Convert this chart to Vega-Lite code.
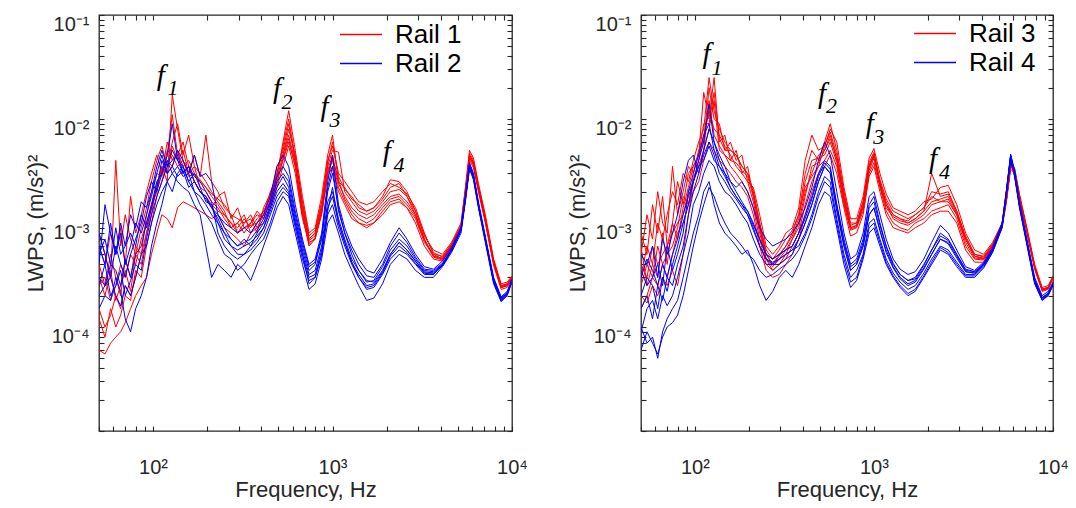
{
  "$schema": "https://vega.github.io/schema/vega-lite/v6.json",
  "padding": {"left": 23, "top": 13, "right": 0, "bottom": 0},
  "spacing": 129,
  "bounds": "flush",
  "resolve": {"scale": {"color": "independent"}, "legend": {"color": "independent"}},
  "datasets": {
    "r1": [
      {"f":50,"a":6e-4,"b":1.5e-4,"c":0.6e-4,"d":3e-4,"e":8e-4,"g":2.5e-4,"h":1.2e-4,"i":4e-4},
      {"f":54,"a":4e-4,"b":1e-4,"c":0.55e-4,"d":2e-4,"e":5e-4,"g":3e-4,"h":0.8e-4,"i":2.5e-4},
      {"f":58,"a":8e-4,"b":1.3e-4,"c":0.7e-4,"d":3.5e-4,"e":3e-4,"g":1.8e-4,"h":1.5e-4,"i":5e-4},
      {"f":62,"a":5e-4,"b":2e-4,"c":0.8e-4,"d":1.8e-4,"e":40e-4,"g":2.5e-4,"h":1e-4,"i":3e-4},
      {"f":66,"a":9e-4,"b":1.5e-4,"c":0.9e-4,"d":2.5e-4,"e":6e-4,"g":4e-4,"h":1.3e-4,"i":2e-4},
      {"f":70,"a":4e-4,"b":2.5e-4,"c":1.1e-4,"d":3.5e-4,"e":12e-4,"g":3e-4,"h":2e-4,"i":4.5e-4},
      {"f":75,"a":18e-4,"b":2e-4,"c":1.5e-4,"d":2.2e-4,"e":7e-4,"g":5e-4,"h":1.8e-4,"i":3e-4},
      {"f":80,"a":8e-4,"b":3e-4,"c":2e-4,"d":5e-4,"e":5e-4,"g":4e-4,"h":3.5e-4,"i":6e-4},
      {"f":86,"a":12e-4,"b":5e-4,"c":2.5e-4,"d":4e-4,"e":9e-4,"g":7e-4,"h":3e-4,"i":5e-4},
      {"f":92,"a":20e-4,"b":8e-4,"c":3e-4,"d":8e-4,"e":14e-4,"g":10e-4,"h":6e-4,"i":12e-4},
      {"f":98,"a":30e-4,"b":14e-4,"c":5e-4,"d":12e-4,"e":25e-4,"g":15e-4,"h":10e-4,"i":20e-4},
      {"f":105,"a":45e-4,"b":20e-4,"c":8e-4,"d":25e-4,"e":40e-4,"g":22e-4,"h":18e-4,"i":30e-4},
      {"f":112,"a":30e-4,"b":35e-4,"c":12e-4,"d":30e-4,"e":55e-4,"g":35e-4,"h":25e-4,"i":28e-4},
      {"f":120,"a":60e-4,"b":25e-4,"c":11e-4,"d":45e-4,"e":35e-4,"g":30e-4,"h":40e-4,"i":50e-4},
      {"f":128,"a":40e-4,"b":170e-4,"c":9e-4,"d":110e-4,"e":60e-4,"g":55e-4,"h":35e-4,"i":45e-4},
      {"f":137,"a":50e-4,"b":80e-4,"c":14e-4,"d":45e-4,"e":90e-4,"g":40e-4,"h":50e-4,"i":35e-4},
      {"f":147,"a":35e-4,"b":40e-4,"c":16e-4,"d":60e-4,"e":45e-4,"g":50e-4,"h":30e-4,"i":40e-4},
      {"f":158,"a":40e-4,"b":30e-4,"c":15e-4,"d":35e-4,"e":70e-4,"g":30e-4,"h":35e-4,"i":28e-4},
      {"f":170,"a":30e-4,"b":45e-4,"c":14e-4,"d":25e-4,"e":35e-4,"g":35e-4,"h":25e-4,"i":30e-4},
      {"f":183,"a":25e-4,"b":28e-4,"c":13e-4,"d":20e-4,"e":30e-4,"g":22e-4,"h":20e-4,"i":26e-4},
      {"f":197,"a":22e-4,"b":70e-4,"c":12e-4,"d":18e-4,"e":25e-4,"g":20e-4,"h":18e-4,"i":22e-4},
      {"f":212,"a":18e-4,"b":25e-4,"c":11e-4,"d":14e-4,"e":20e-4,"g":16e-4,"h":15e-4,"i":19e-4},
      {"f":230,"a":15e-4,"b":20e-4,"c":12e-4,"d":18e-4,"e":16e-4,"g":14e-4,"h":13e-4,"i":17e-4},
      {"f":250,"a":12e-4,"b":14e-4,"c":9e-4,"d":20e-4,"e":13e-4,"g":11e-4,"h":12e-4,"i":15e-4},
      {"f":272,"a":10e-4,"b":12e-4,"c":8e-4,"d":11e-4,"e":9e-4,"g":9e-4,"h":10e-4,"i":12e-4},
      {"f":296,"a":9e-4,"b":8e-4,"c":7e-4,"d":14e-4,"e":10e-4,"g":10e-4,"h":8e-4,"i":11e-4},
      {"f":322,"a":11e-4,"b":10e-4,"c":6e-4,"d":9e-4,"e":12e-4,"g":8e-4,"h":9e-4,"i":10e-4},
      {"f":350,"a":9e-4,"b":12e-4,"c":8e-4,"d":10e-4,"e":8e-4,"g":10e-4,"h":9.5e-4,"i":11e-4},
      {"f":380,"a":11e-4,"b":9e-4,"c":10e-4,"d":13e-4,"e":9e-4,"g":12e-4,"h":10e-4,"i":8e-4},
      {"f":413,"a":13e-4,"b":12e-4,"c":12e-4,"d":11e-4,"e":10e-4,"g":11e-4,"h":13e-4,"i":14e-4},
      {"f":450,"a":18e-4,"b":20e-4,"c":15e-4,"d":16e-4,"e":14e-4,"g":17e-4,"h":15e-4,"i":19e-4},
      {"f":490,"a":30e-4,"b":28e-4,"c":25e-4,"d":35e-4,"e":22e-4,"g":27e-4,"h":24e-4,"i":30e-4},
      {"f":530,"a":50e-4,"b":60e-4,"c":40e-4,"d":45e-4,"e":35e-4,"g":45e-4,"h":42e-4,"i":55e-4},
      {"f":570,"a":90e-4,"b":120e-4,"c":60e-4,"d":80e-4,"e":55e-4,"g":70e-4,"h":65e-4,"i":100e-4},
      {"f":620,"a":40e-4,"b":50e-4,"c":35e-4,"d":45e-4,"e":30e-4,"g":38e-4,"h":35e-4,"i":42e-4},
      {"f":680,"a":14e-4,"b":18e-4,"c":12e-4,"d":15e-4,"e":11e-4,"g":13e-4,"h":12e-4,"i":16e-4},
      {"f":740,"a":7e-4,"b":8e-4,"c":6e-4,"d":7e-4,"e":6.5e-4,"g":6.8e-4,"h":6.2e-4,"i":7.5e-4},
      {"f":800,"a":8e-4,"b":9e-4,"c":7e-4,"d":8e-4,"e":7e-4,"g":7.5e-4,"h":7.2e-4,"i":8.5e-4},
      {"f":870,"a":15e-4,"b":18e-4,"c":12e-4,"d":14e-4,"e":13e-4,"g":13e-4,"h":12.5e-4,"i":16e-4},
      {"f":940,"a":40e-4,"b":45e-4,"c":30e-4,"d":35e-4,"e":28e-4,"g":32e-4,"h":30e-4,"i":38e-4},
      {"f":1000,"a":55e-4,"b":70e-4,"c":40e-4,"d":50e-4,"e":35e-4,"g":45e-4,"h":42e-4,"i":60e-4},
      {"f":1080,"a":30e-4,"b":25e-4,"c":22e-4,"d":48e-4,"e":20e-4,"g":24e-4,"h":26e-4,"i":28e-4},
      {"f":1170,"a":25e-4,"b":22e-4,"c":16e-4,"d":20e-4,"e":15e-4,"g":18e-4,"h":17e-4,"i":21e-4},
      {"f":1280,"a":20e-4,"b":17e-4,"c":12e-4,"d":16e-4,"e":11e-4,"g":14e-4,"h":13e-4,"i":18e-4},
      {"f":1400,"a":16e-4,"b":15e-4,"c":10e-4,"d":13e-4,"e":10e-4,"g":12e-4,"h":11e-4,"i":14e-4},
      {"f":1550,"a":15e-4,"b":13e-4,"c":9e-4,"d":12e-4,"e":9.5e-4,"g":11e-4,"h":10e-4,"i":13e-4},
      {"f":1700,"a":16e-4,"b":14e-4,"c":10e-4,"d":13e-4,"e":10e-4,"g":12e-4,"h":11e-4,"i":14e-4},
      {"f":1900,"a":20e-4,"b":18e-4,"c":13e-4,"d":16e-4,"e":12e-4,"g":15e-4,"h":14e-4,"i":17e-4},
      {"f":2100,"a":24e-4,"b":26e-4,"c":16e-4,"d":20e-4,"e":15e-4,"g":18e-4,"h":17e-4,"i":22e-4},
      {"f":2350,"a":22e-4,"b":25e-4,"c":17e-4,"d":21e-4,"e":16e-4,"g":19e-4,"h":18e-4,"i":24e-4},
      {"f":2600,"a":19e-4,"b":20e-4,"c":14e-4,"d":18e-4,"e":14e-4,"g":16e-4,"h":15e-4,"i":18e-4},
      {"f":2900,"a":14e-4,"b":13e-4,"c":10e-4,"d":12e-4,"e":11e-4,"g":12e-4,"h":11.5e-4,"i":13e-4},
      {"f":3250,"a":8e-4,"b":7.5e-4,"c":6e-4,"d":7e-4,"e":6.5e-4,"g":7e-4,"h":6.8e-4,"i":7.8e-4},
      {"f":3650,"a":5e-4,"b":5.5e-4,"c":4.5e-4,"d":4.8e-4,"e":5e-4,"g":4.8e-4,"h":4.7e-4,"i":5.2e-4},
      {"f":4100,"a":4.5e-4,"b":5e-4,"c":4.3e-4,"d":4.5e-4,"e":4.8e-4,"g":4.6e-4,"h":4.4e-4,"i":4.7e-4},
      {"f":4600,"a":6e-4,"b":6.5e-4,"c":5.8e-4,"d":6e-4,"e":6.3e-4,"g":6.1e-4,"h":6e-4,"i":6.2e-4},
      {"f":5200,"a":9e-4,"b":10e-4,"c":8.5e-4,"d":9e-4,"e":9.5e-4,"g":9.2e-4,"h":9e-4,"i":9.4e-4},
      {"f":5500,"a":20e-4,"b":22e-4,"c":18e-4,"d":20e-4,"e":19e-4,"g":20e-4,"h":19.5e-4,"i":21e-4},
      {"f":5800,"a":45e-4,"b":50e-4,"c":40e-4,"d":45e-4,"e":42e-4,"g":44e-4,"h":43e-4,"i":47e-4},
      {"f":6100,"a":38e-4,"b":42e-4,"c":34e-4,"d":38e-4,"e":36e-4,"g":37e-4,"h":36e-4,"i":40e-4},
      {"f":6500,"a":22e-4,"b":24e-4,"c":20e-4,"d":22e-4,"e":21e-4,"g":21.5e-4,"h":21e-4,"i":23e-4},
      {"f":7100,"a":11e-4,"b":12e-4,"c":10e-4,"d":11e-4,"e":10.5e-4,"g":10.8e-4,"h":10.5e-4,"i":11.5e-4},
      {"f":7900,"a":4.2e-4,"b":4.5e-4,"c":3.9e-4,"d":4.2e-4,"e":4.1e-4,"g":4.2e-4,"h":4.1e-4,"i":4.4e-4},
      {"f":8700,"a":2.4e-4,"b":2.6e-4,"c":2.3e-4,"d":2.5e-4,"e":2.4e-4,"g":2.45e-4,"h":2.4e-4,"i":2.5e-4},
      {"f":9400,"a":2.5e-4,"b":2.7e-4,"c":2.4e-4,"d":2.6e-4,"e":2.5e-4,"g":2.55e-4,"h":2.5e-4,"i":2.6e-4},
      {"f":10000,"a":3e-4,"b":3.1e-4,"c":2.9e-4,"d":3e-4,"e":3e-4,"g":3e-4,"h":3e-4,"i":3.05e-4}
    ],
    "r2": [
      {"f":50,"a":4e-4,"b":8e-4,"c":2e-4,"d":6e-4,"e":1.5e-4,"g":3e-4,"h":5e-4,"i":2.5e-4},
      {"f":54,"a":15e-4,"b":5e-4,"c":2.5e-4,"d":4e-4,"e":2e-4,"g":2.5e-4,"h":7e-4,"i":4e-4},
      {"f":58,"a":8e-4,"b":3e-4,"c":3e-4,"d":10e-4,"e":1.8e-4,"g":4e-4,"h":4e-4,"i":2e-4},
      {"f":62,"a":5e-4,"b":6e-4,"c":2e-4,"d":5e-4,"e":3e-4,"g":3.5e-4,"h":9e-4,"i":2.5e-4},
      {"f":66,"a":10e-4,"b":4e-4,"c":1.6e-4,"d":8e-4,"e":2.2e-4,"g":2.5e-4,"h":5e-4,"i":3.5e-4},
      {"f":70,"a":6e-4,"b":3e-4,"c":2.5e-4,"d":4e-4,"e":1.2e-4,"g":4.5e-4,"h":6e-4,"i":2e-4},
      {"f":75,"a":12e-4,"b":5e-4,"c":2e-4,"d":6e-4,"e":0.9e-4,"g":3e-4,"h":8e-4,"i":2.8e-4},
      {"f":80,"a":9e-4,"b":7e-4,"c":3e-4,"d":10e-4,"e":1.5e-4,"g":5e-4,"h":6e-4,"i":4e-4},
      {"f":86,"a":16e-4,"b":10e-4,"c":5e-4,"d":8e-4,"e":2e-4,"g":6e-4,"h":12e-4,"i":3.5e-4},
      {"f":92,"a":14e-4,"b":18e-4,"c":6e-4,"d":12e-4,"e":3e-4,"g":10e-4,"h":9e-4,"i":7e-4},
      {"f":98,"a":20e-4,"b":25e-4,"c":10e-4,"d":18e-4,"e":6e-4,"g":15e-4,"h":14e-4,"i":12e-4},
      {"f":105,"a":35e-4,"b":20e-4,"c":15e-4,"d":30e-4,"e":10e-4,"g":25e-4,"h":22e-4,"i":18e-4},
      {"f":112,"a":50e-4,"b":30e-4,"c":20e-4,"d":45e-4,"e":15e-4,"g":30e-4,"h":40e-4,"i":25e-4},
      {"f":120,"a":35e-4,"b":45e-4,"c":25e-4,"d":30e-4,"e":25e-4,"g":40e-4,"h":30e-4,"i":35e-4},
      {"f":128,"a":40e-4,"b":90e-4,"c":30e-4,"d":35e-4,"e":20e-4,"g":30e-4,"h":35e-4,"i":50e-4},
      {"f":137,"a":45e-4,"b":40e-4,"c":25e-4,"d":50e-4,"e":30e-4,"g":35e-4,"h":28e-4,"i":40e-4},
      {"f":147,"a":30e-4,"b":35e-4,"c":22e-4,"d":40e-4,"e":35e-4,"g":28e-4,"h":32e-4,"i":30e-4},
      {"f":158,"a":35e-4,"b":25e-4,"c":20e-4,"d":30e-4,"e":25e-4,"g":30e-4,"h":22e-4,"i":35e-4},
      {"f":170,"a":25e-4,"b":30e-4,"c":15e-4,"d":45e-4,"e":20e-4,"g":20e-4,"h":25e-4,"i":28e-4},
      {"f":183,"a":20e-4,"b":22e-4,"c":12e-4,"d":28e-4,"e":15e-4,"g":18e-4,"h":20e-4,"i":25e-4},
      {"f":197,"a":18e-4,"b":16e-4,"c":6e-4,"d":30e-4,"e":12e-4,"g":15e-4,"h":17e-4,"i":20e-4},
      {"f":212,"a":14e-4,"b":15e-4,"c":3e-4,"d":25e-4,"e":10e-4,"g":12e-4,"h":14e-4,"i":16e-4},
      {"f":230,"a":12e-4,"b":10e-4,"c":4e-4,"d":12e-4,"e":7e-4,"g":10e-4,"h":11e-4,"i":8e-4},
      {"f":250,"a":9e-4,"b":8e-4,"c":3.5e-4,"d":10e-4,"e":5e-4,"g":7e-4,"h":8e-4,"i":6e-4},
      {"f":272,"a":7e-4,"b":6e-4,"c":3e-4,"d":9e-4,"e":4.5e-4,"g":6e-4,"h":7e-4,"i":5e-4},
      {"f":296,"a":6e-4,"b":5e-4,"c":4e-4,"d":8e-4,"e":3.5e-4,"g":5.5e-4,"h":6e-4,"i":4.5e-4},
      {"f":322,"a":7e-4,"b":5e-4,"c":3.5e-4,"d":9e-4,"e":4e-4,"g":6e-4,"h":6.5e-4,"i":5e-4},
      {"f":350,"a":6e-4,"b":6e-4,"c":2.8e-4,"d":8e-4,"e":5e-4,"g":6.5e-4,"h":7e-4,"i":5.5e-4},
      {"f":380,"a":8e-4,"b":7e-4,"c":4e-4,"d":10e-4,"e":6e-4,"g":7.5e-4,"h":8.5e-4,"i":6.5e-4},
      {"f":413,"a":10e-4,"b":9e-4,"c":6e-4,"d":12e-4,"e":7e-4,"g":9e-4,"h":11e-4,"i":8e-4},
      {"f":450,"a":15e-4,"b":14e-4,"c":9e-4,"d":18e-4,"e":10e-4,"g":13e-4,"h":16e-4,"i":12e-4},
      {"f":490,"a":25e-4,"b":22e-4,"c":14e-4,"d":35e-4,"e":16e-4,"g":20e-4,"h":28e-4,"i":18e-4},
      {"f":530,"a":30e-4,"b":28e-4,"c":18e-4,"d":45e-4,"e":20e-4,"g":24e-4,"h":35e-4,"i":22e-4},
      {"f":570,"a":25e-4,"b":22e-4,"c":15e-4,"d":35e-4,"e":18e-4,"g":20e-4,"h":28e-4,"i":19e-4},
      {"f":620,"a":12e-4,"b":11e-4,"c":8e-4,"d":15e-4,"e":9e-4,"g":10e-4,"h":13e-4,"i":10e-4},
      {"f":680,"a":6e-4,"b":5.5e-4,"c":4e-4,"d":7e-4,"e":4.5e-4,"g":5e-4,"h":6.5e-4,"i":5e-4},
      {"f":740,"a":3.5e-4,"b":3.2e-4,"c":2.3e-4,"d":4e-4,"e":2.8e-4,"g":3e-4,"h":3.8e-4,"i":2.6e-4},
      {"f":800,"a":4e-4,"b":3.5e-4,"c":2.6e-4,"d":4.5e-4,"e":3e-4,"g":3.2e-4,"h":4.2e-4,"i":3e-4},
      {"f":870,"a":7e-4,"b":6e-4,"c":4.5e-4,"d":8e-4,"e":5e-4,"g":5.5e-4,"h":7.5e-4,"i":5e-4},
      {"f":940,"a":20e-4,"b":16e-4,"c":10e-4,"d":25e-4,"e":12e-4,"g":14e-4,"h":22e-4,"i":13e-4},
      {"f":1000,"a":30e-4,"b":20e-4,"c":12e-4,"d":45e-4,"e":15e-4,"g":18e-4,"h":35e-4,"i":22e-4},
      {"f":1080,"a":14e-4,"b":11e-4,"c":8e-4,"d":15e-4,"e":9e-4,"g":10e-4,"h":13e-4,"i":10e-4},
      {"f":1170,"a":8e-4,"b":7e-4,"c":5e-4,"d":9e-4,"e":6e-4,"g":6.5e-4,"h":8e-4,"i":6.5e-4},
      {"f":1280,"a":5e-4,"b":4.5e-4,"c":3.5e-4,"d":6e-4,"e":4e-4,"g":4.2e-4,"h":5.5e-4,"i":4.2e-4},
      {"f":1400,"a":3.5e-4,"b":3.5e-4,"c":2.5e-4,"d":4.5e-4,"e":3e-4,"g":3e-4,"h":4e-4,"i":3.2e-4},
      {"f":1550,"a":2.7e-4,"b":2.8e-4,"c":1.8e-4,"d":3.5e-4,"e":2.3e-4,"g":2.4e-4,"h":3.1e-4,"i":2.5e-4},
      {"f":1700,"a":2.8e-4,"b":2.7e-4,"c":1.9e-4,"d":3.3e-4,"e":2.4e-4,"g":2.5e-4,"h":3e-4,"i":2.6e-4},
      {"f":1900,"a":3.8e-4,"b":3.5e-4,"c":2.6e-4,"d":4.5e-4,"e":3.2e-4,"g":3.3e-4,"h":4e-4,"i":3.4e-4},
      {"f":2100,"a":5.5e-4,"b":5e-4,"c":4e-4,"d":6.5e-4,"e":4.5e-4,"g":4.8e-4,"h":6e-4,"i":5e-4},
      {"f":2350,"a":7e-4,"b":6.5e-4,"c":5e-4,"d":9e-4,"e":5.5e-4,"g":6e-4,"h":8e-4,"i":6.5e-4},
      {"f":2600,"a":6e-4,"b":5.5e-4,"c":4.5e-4,"d":7e-4,"e":5e-4,"g":5.2e-4,"h":6.5e-4,"i":5.5e-4},
      {"f":2900,"a":4.5e-4,"b":4.3e-4,"c":3.5e-4,"d":5e-4,"e":4e-4,"g":4.1e-4,"h":4.7e-4,"i":4.3e-4},
      {"f":3250,"a":3.5e-4,"b":3.3e-4,"c":3e-4,"d":3.8e-4,"e":3.2e-4,"g":3.3e-4,"h":3.6e-4,"i":3.4e-4},
      {"f":3650,"a":3.4e-4,"b":3.3e-4,"c":3e-4,"d":3.6e-4,"e":3.2e-4,"g":3.2e-4,"h":3.5e-4,"i":3.3e-4},
      {"f":4100,"a":4e-4,"b":4e-4,"c":3.8e-4,"d":4.3e-4,"e":3.9e-4,"g":3.9e-4,"h":4.1e-4,"i":4e-4},
      {"f":4600,"a":5.5e-4,"b":5.5e-4,"c":5.2e-4,"d":5.8e-4,"e":5.4e-4,"g":5.4e-4,"h":5.6e-4,"i":5.5e-4},
      {"f":5200,"a":8.5e-4,"b":8.8e-4,"c":8e-4,"d":9e-4,"e":8.5e-4,"g":8.5e-4,"h":8.8e-4,"i":8.6e-4},
      {"f":5500,"a":17e-4,"b":18e-4,"c":16e-4,"d":18e-4,"e":17e-4,"g":17e-4,"h":17.5e-4,"i":17e-4},
      {"f":5800,"a":36e-4,"b":38e-4,"c":33e-4,"d":37e-4,"e":35e-4,"g":35e-4,"h":36e-4,"i":35e-4},
      {"f":6100,"a":28e-4,"b":30e-4,"c":26e-4,"d":29e-4,"e":27e-4,"g":27e-4,"h":28.5e-4,"i":28e-4},
      {"f":6500,"a":15e-4,"b":16e-4,"c":14e-4,"d":15e-4,"e":14.5e-4,"g":14.5e-4,"h":15.5e-4,"i":15e-4},
      {"f":7100,"a":7e-4,"b":7.5e-4,"c":6.5e-4,"d":7e-4,"e":6.8e-4,"g":6.9e-4,"h":7.2e-4,"i":7e-4},
      {"f":7900,"a":2.8e-4,"b":3e-4,"c":2.6e-4,"d":2.8e-4,"e":2.7e-4,"g":2.7e-4,"h":2.9e-4,"i":2.8e-4},
      {"f":8700,"a":1.85e-4,"b":1.95e-4,"c":1.75e-4,"d":1.9e-4,"e":1.8e-4,"g":1.8e-4,"h":1.9e-4,"i":1.85e-4},
      {"f":9400,"a":2.1e-4,"b":2.2e-4,"c":2e-4,"d":2.1e-4,"e":2.05e-4,"g":2.05e-4,"h":2.15e-4,"i":2.1e-4},
      {"f":10000,"a":2.8e-4,"b":2.9e-4,"c":2.7e-4,"d":2.8e-4,"e":2.8e-4,"g":2.8e-4,"h":2.85e-4,"i":2.8e-4}
    ],
    "r3": [
      {"f":50,"a":3e-4,"b":8e-4,"c":1.5e-4,"d":5e-4,"e":2e-4,"g":4e-4,"h":2.5e-4,"i":6e-4},
      {"f":54,"a":6e-4,"b":5e-4,"c":2e-4,"d":12e-4,"e":1.7e-4,"g":3e-4,"h":4e-4,"i":2.5e-4},
      {"f":58,"a":4e-4,"b":15e-4,"c":3e-4,"d":7e-4,"e":2.5e-4,"g":6e-4,"h":3e-4,"i":4e-4},
      {"f":62,"a":10e-4,"b":8e-4,"c":2.5e-4,"d":20e-4,"e":2e-4,"g":4e-4,"h":6e-4,"i":3e-4},
      {"f":66,"a":7e-4,"b":18e-4,"c":4e-4,"d":10e-4,"e":3e-4,"g":5e-4,"h":4e-4,"i":8e-4},
      {"f":70,"a":12e-4,"b":6e-4,"c":3e-4,"d":8e-4,"e":2.5e-4,"g":6e-4,"h":5e-4,"i":4e-4},
      {"f":75,"a":20e-4,"b":10e-4,"c":5e-4,"d":35e-4,"e":3.5e-4,"g":8e-4,"h":6e-4,"i":10e-4},
      {"f":80,"a":15e-4,"b":25e-4,"c":8e-4,"d":12e-4,"e":2.5e-4,"g":10e-4,"h":9e-4,"i":7e-4},
      {"f":86,"a":30e-4,"b":15e-4,"c":10e-4,"d":20e-4,"e":5e-4,"g":12e-4,"h":18e-4,"i":14e-4},
      {"f":92,"a":25e-4,"b":30e-4,"c":15e-4,"d":35e-4,"e":12e-4,"g":20e-4,"h":15e-4,"i":22e-4},
      {"f":98,"a":40e-4,"b":35e-4,"c":20e-4,"d":30e-4,"e":25e-4,"g":25e-4,"h":28e-4,"i":35e-4},
      {"f":105,"a":60e-4,"b":45e-4,"c":25e-4,"d":50e-4,"e":35e-4,"g":40e-4,"h":35e-4,"i":45e-4},
      {"f":112,"a":80e-4,"b":180e-4,"c":40e-4,"d":60e-4,"e":50e-4,"g":70e-4,"h":50e-4,"i":90e-4},
      {"f":120,"a":250e-4,"b":100e-4,"c":60e-4,"d":200e-4,"e":80e-4,"g":120e-4,"h":150e-4,"i":90e-4},
      {"f":128,"a":120e-4,"b":250e-4,"c":50e-4,"d":100e-4,"e":150e-4,"g":80e-4,"h":70e-4,"i":180e-4},
      {"f":137,"a":80e-4,"b":60e-4,"c":40e-4,"d":90e-4,"e":50e-4,"g":70e-4,"h":55e-4,"i":65e-4},
      {"f":147,"a":60e-4,"b":70e-4,"c":35e-4,"d":50e-4,"e":45e-4,"g":55e-4,"h":45e-4,"i":50e-4},
      {"f":158,"a":50e-4,"b":40e-4,"c":30e-4,"d":60e-4,"e":35e-4,"g":45e-4,"h":40e-4,"i":50e-4},
      {"f":170,"a":45e-4,"b":50e-4,"c":25e-4,"d":40e-4,"e":30e-4,"g":35e-4,"h":38e-4,"i":45e-4},
      {"f":183,"a":35e-4,"b":30e-4,"c":22e-4,"d":45e-4,"e":25e-4,"g":30e-4,"h":32e-4,"i":35e-4},
      {"f":197,"a":30e-4,"b":35e-4,"c":18e-4,"d":25e-4,"e":20e-4,"g":25e-4,"h":28e-4,"i":30e-4},
      {"f":212,"a":20e-4,"b":18e-4,"c":12e-4,"d":22e-4,"e":14e-4,"g":16e-4,"h":18e-4,"i":20e-4},
      {"f":230,"a":10e-4,"b":9e-4,"c":6e-4,"d":12e-4,"e":7e-4,"g":8e-4,"h":9e-4,"i":10e-4},
      {"f":250,"a":5e-4,"b":4.5e-4,"c":3.5e-4,"d":6e-4,"e":4e-4,"g":4.5e-4,"h":5e-4,"i":5.5e-4},
      {"f":272,"a":4e-4,"b":3.5e-4,"c":3e-4,"d":5e-4,"e":3.5e-4,"g":3.8e-4,"h":4e-4,"i":4.5e-4},
      {"f":296,"a":5e-4,"b":4e-4,"c":3.2e-4,"d":6e-4,"e":4e-4,"g":4.5e-4,"h":4.8e-4,"i":5.5e-4},
      {"f":322,"a":6e-4,"b":5e-4,"c":4e-4,"d":8e-4,"e":4.5e-4,"g":5.5e-4,"h":6e-4,"i":7e-4},
      {"f":350,"a":8e-4,"b":7e-4,"c":5e-4,"d":9e-4,"e":6e-4,"g":7e-4,"h":7.5e-4,"i":8.5e-4},
      {"f":380,"a":12e-4,"b":10e-4,"c":7e-4,"d":14e-4,"e":8e-4,"g":9e-4,"h":11e-4,"i":12e-4},
      {"f":413,"a":30e-4,"b":20e-4,"c":12e-4,"d":40e-4,"e":15e-4,"g":18e-4,"h":25e-4,"i":22e-4},
      {"f":450,"a":50e-4,"b":30e-4,"c":20e-4,"d":70e-4,"e":25e-4,"g":35e-4,"h":40e-4,"i":28e-4},
      {"f":490,"a":40e-4,"b":45e-4,"c":30e-4,"d":50e-4,"e":35e-4,"g":38e-4,"h":42e-4,"i":35e-4},
      {"f":530,"a":60e-4,"b":50e-4,"c":35e-4,"d":55e-4,"e":40e-4,"g":50e-4,"h":45e-4,"i":55e-4},
      {"f":570,"a":90e-4,"b":70e-4,"c":45e-4,"d":80e-4,"e":50e-4,"g":65e-4,"h":60e-4,"i":75e-4},
      {"f":620,"a":50e-4,"b":40e-4,"c":30e-4,"d":60e-4,"e":35e-4,"g":42e-4,"h":38e-4,"i":45e-4},
      {"f":680,"a":20e-4,"b":18e-4,"c":14e-4,"d":22e-4,"e":15e-4,"g":17e-4,"h":16e-4,"i":19e-4},
      {"f":740,"a":10e-4,"b":9e-4,"c":7.5e-4,"d":11e-4,"e":8.5e-4,"g":9e-4,"h":8.8e-4,"i":9.5e-4},
      {"f":800,"a":10e-4,"b":9.5e-4,"c":8e-4,"d":11e-4,"e":9e-4,"g":9.5e-4,"h":9.2e-4,"i":10e-4},
      {"f":870,"a":16e-4,"b":15e-4,"c":12e-4,"d":18e-4,"e":13e-4,"g":14.5e-4,"h":14e-4,"i":16e-4},
      {"f":940,"a":38e-4,"b":35e-4,"c":28e-4,"d":42e-4,"e":30e-4,"g":34e-4,"h":32e-4,"i":36e-4},
      {"f":1000,"a":48e-4,"b":45e-4,"c":35e-4,"d":52e-4,"e":38e-4,"g":44e-4,"h":42e-4,"i":46e-4},
      {"f":1080,"a":26e-4,"b":24e-4,"c":20e-4,"d":30e-4,"e":22e-4,"g":24e-4,"h":23e-4,"i":25e-4},
      {"f":1170,"a":17e-4,"b":15e-4,"c":12e-4,"d":19e-4,"e":13e-4,"g":15e-4,"h":14e-4,"i":16e-4},
      {"f":1280,"a":13e-4,"b":12e-4,"c":9e-4,"d":14e-4,"e":10e-4,"g":11e-4,"h":11.5e-4,"i":12e-4},
      {"f":1400,"a":12e-4,"b":11e-4,"c":8.5e-4,"d":13e-4,"e":9e-4,"g":10e-4,"h":10.5e-4,"i":11e-4},
      {"f":1550,"a":11e-4,"b":10e-4,"c":8e-4,"d":12e-4,"e":8.5e-4,"g":9.5e-4,"h":10e-4,"i":10.5e-4},
      {"f":1700,"a":12e-4,"b":11e-4,"c":9e-4,"d":13e-4,"e":10e-4,"g":10.5e-4,"h":11e-4,"i":12e-4},
      {"f":1900,"a":14e-4,"b":13e-4,"c":10e-4,"d":16e-4,"e":11e-4,"g":12e-4,"h":13e-4,"i":14e-4},
      {"f":2100,"a":18e-4,"b":30e-4,"c":12e-4,"d":17e-4,"e":13e-4,"g":15e-4,"h":16e-4,"i":20e-4},
      {"f":2350,"a":16e-4,"b":18e-4,"c":13e-4,"d":22e-4,"e":14e-4,"g":16e-4,"h":17e-4,"i":19e-4},
      {"f":2600,"a":17e-4,"b":19e-4,"c":13e-4,"d":23e-4,"e":15e-4,"g":16e-4,"h":18e-4,"i":20e-4},
      {"f":2900,"a":12e-4,"b":13e-4,"c":10e-4,"d":15e-4,"e":11e-4,"g":12e-4,"h":12.5e-4,"i":13e-4},
      {"f":3250,"a":7e-4,"b":7.5e-4,"c":5.5e-4,"d":8e-4,"e":6e-4,"g":6.5e-4,"h":7e-4,"i":7.2e-4},
      {"f":3650,"a":4.8e-4,"b":5e-4,"c":4.2e-4,"d":5.5e-4,"e":4.5e-4,"g":4.6e-4,"h":4.8e-4,"i":5e-4},
      {"f":4100,"a":4.5e-4,"b":4.8e-4,"c":4.2e-4,"d":5e-4,"e":4.4e-4,"g":4.5e-4,"h":4.6e-4,"i":4.7e-4},
      {"f":4600,"a":6e-4,"b":6.3e-4,"c":5.5e-4,"d":6.5e-4,"e":5.8e-4,"g":6e-4,"h":6.1e-4,"i":6.2e-4},
      {"f":5200,"a":9.5e-4,"b":10e-4,"c":9e-4,"d":10e-4,"e":9.5e-4,"g":9.5e-4,"h":9.6e-4,"i":9.8e-4},
      {"f":5500,"a":17e-4,"b":18e-4,"c":16e-4,"d":18e-4,"e":17e-4,"g":17e-4,"h":17.5e-4,"i":17.5e-4},
      {"f":5800,"a":36e-4,"b":38e-4,"c":33e-4,"d":37e-4,"e":35e-4,"g":35e-4,"h":36e-4,"i":36e-4},
      {"f":6100,"a":32e-4,"b":34e-4,"c":30e-4,"d":33e-4,"e":31e-4,"g":31e-4,"h":32e-4,"i":32e-4},
      {"f":6500,"a":18e-4,"b":19e-4,"c":17e-4,"d":18e-4,"e":17.5e-4,"g":17.5e-4,"h":18e-4,"i":18e-4},
      {"f":7100,"a":9e-4,"b":9.5e-4,"c":8.5e-4,"d":9e-4,"e":8.8e-4,"g":8.8e-4,"h":9e-4,"i":9e-4},
      {"f":7900,"a":3.8e-4,"b":4e-4,"c":3.6e-4,"d":3.8e-4,"e":3.7e-4,"g":3.7e-4,"h":3.8e-4,"i":3.8e-4},
      {"f":8700,"a":2.3e-4,"b":2.4e-4,"c":2.2e-4,"d":2.3e-4,"e":2.25e-4,"g":2.25e-4,"h":2.3e-4,"i":2.3e-4},
      {"f":9400,"a":2.4e-4,"b":2.5e-4,"c":2.3e-4,"d":2.4e-4,"e":2.35e-4,"g":2.35e-4,"h":2.4e-4,"i":2.4e-4},
      {"f":10000,"a":3e-4,"b":3.1e-4,"c":2.9e-4,"d":3e-4,"e":3e-4,"g":3e-4,"h":3e-4,"i":3e-4}
    ],
    "r4": [
      {"f":50,"a":2e-4,"b":5e-4,"c":1e-4,"d":3.5e-4,"e":0.9e-4,"g":1.5e-4,"h":3e-4,"i":0.6e-4},
      {"f":54,"a":3e-4,"b":4e-4,"c":0.7e-4,"d":2.5e-4,"e":1.5e-4,"g":2e-4,"h":4.5e-4,"i":0.9e-4},
      {"f":58,"a":2.5e-4,"b":6e-4,"c":0.8e-4,"d":3e-4,"e":1.8e-4,"g":1.2e-4,"h":3.5e-4,"i":0.7e-4},
      {"f":62,"a":1.5e-4,"b":3e-4,"c":0.5e-4,"d":4e-4,"e":1.2e-4,"g":2.5e-4,"h":2.5e-4,"i":0.55e-4},
      {"f":66,"a":3e-4,"b":7e-4,"c":0.9e-4,"d":2.5e-4,"e":2e-4,"g":1.8e-4,"h":4e-4,"i":0.8e-4},
      {"f":70,"a":2.2e-4,"b":5e-4,"c":1.2e-4,"d":6e-4,"e":1.6e-4,"g":3e-4,"h":3e-4,"i":1e-4},
      {"f":75,"a":4e-4,"b":8e-4,"c":1.5e-4,"d":3.5e-4,"e":2e-4,"g":2.5e-4,"h":5e-4,"i":1.1e-4},
      {"f":80,"a":6e-4,"b":12e-4,"c":1.8e-4,"d":5e-4,"e":3e-4,"g":4e-4,"h":7e-4,"i":1.3e-4},
      {"f":86,"a":10e-4,"b":25e-4,"c":3e-4,"d":8e-4,"e":5e-4,"g":6e-4,"h":12e-4,"i":2e-4},
      {"f":92,"a":15e-4,"b":40e-4,"c":5e-4,"d":20e-4,"e":8e-4,"g":12e-4,"h":18e-4,"i":3.5e-4},
      {"f":98,"a":25e-4,"b":45e-4,"c":8e-4,"d":30e-4,"e":15e-4,"g":20e-4,"h":25e-4,"i":6e-4},
      {"f":105,"a":40e-4,"b":30e-4,"c":12e-4,"d":45e-4,"e":20e-4,"g":30e-4,"h":35e-4,"i":10e-4},
      {"f":112,"a":60e-4,"b":50e-4,"c":20e-4,"d":70e-4,"e":30e-4,"g":45e-4,"h":40e-4,"i":15e-4},
      {"f":120,"a":140e-4,"b":80e-4,"c":25e-4,"d":90e-4,"e":40e-4,"g":60e-4,"h":55e-4,"i":22e-4},
      {"f":128,"a":60e-4,"b":60e-4,"c":15e-4,"d":50e-4,"e":35e-4,"g":45e-4,"h":40e-4,"i":18e-4},
      {"f":137,"a":45e-4,"b":40e-4,"c":10e-4,"d":35e-4,"e":25e-4,"g":30e-4,"h":35e-4,"i":13e-4},
      {"f":147,"a":35e-4,"b":30e-4,"c":8e-4,"d":30e-4,"e":20e-4,"g":25e-4,"h":28e-4,"i":10e-4},
      {"f":158,"a":25e-4,"b":22e-4,"c":7e-4,"d":25e-4,"e":18e-4,"g":20e-4,"h":22e-4,"i":8e-4},
      {"f":170,"a":20e-4,"b":18e-4,"c":6e-4,"d":22e-4,"e":15e-4,"g":17e-4,"h":18e-4,"i":7e-4},
      {"f":183,"a":16e-4,"b":15e-4,"c":5e-4,"d":25e-4,"e":12e-4,"g":14e-4,"h":15e-4,"i":6e-4},
      {"f":197,"a":13e-4,"b":12e-4,"c":5.5e-4,"d":20e-4,"e":10e-4,"g":12e-4,"h":13e-4,"i":5e-4},
      {"f":212,"a":10e-4,"b":9e-4,"c":4e-4,"d":14e-4,"e":7e-4,"g":8.5e-4,"h":9.5e-4,"i":4.5e-4},
      {"f":230,"a":7e-4,"b":6e-4,"c":2.5e-4,"d":9e-4,"e":5e-4,"g":6e-4,"h":7e-4,"i":3.5e-4},
      {"f":250,"a":5e-4,"b":4.5e-4,"c":1.8e-4,"d":7e-4,"e":4e-4,"g":4.5e-4,"h":5e-4,"i":3e-4},
      {"f":272,"a":4.5e-4,"b":4e-4,"c":2.2e-4,"d":6e-4,"e":4e-4,"g":4.2e-4,"h":4.5e-4,"i":3.2e-4},
      {"f":296,"a":5e-4,"b":4e-4,"c":3e-4,"d":6.5e-4,"e":4.5e-4,"g":4.5e-4,"h":5e-4,"i":3.6e-4},
      {"f":322,"a":5.5e-4,"b":4.5e-4,"c":3.5e-4,"d":7e-4,"e":5e-4,"g":5e-4,"h":5.5e-4,"i":4e-4},
      {"f":350,"a":6e-4,"b":5e-4,"c":3e-4,"d":8e-4,"e":5.5e-4,"g":5.5e-4,"h":6e-4,"i":4.5e-4},
      {"f":380,"a":8e-4,"b":7e-4,"c":4e-4,"d":10e-4,"e":6e-4,"g":7e-4,"h":8e-4,"i":5.5e-4},
      {"f":413,"a":12e-4,"b":10e-4,"c":6e-4,"d":14e-4,"e":8e-4,"g":10e-4,"h":11e-4,"i":7.5e-4},
      {"f":450,"a":18e-4,"b":15e-4,"c":9e-4,"d":22e-4,"e":12e-4,"g":15e-4,"h":17e-4,"i":11e-4},
      {"f":490,"a":30e-4,"b":25e-4,"c":15e-4,"d":40e-4,"e":20e-4,"g":25e-4,"h":28e-4,"i":18e-4},
      {"f":530,"a":40e-4,"b":35e-4,"c":20e-4,"d":60e-4,"e":28e-4,"g":35e-4,"h":38e-4,"i":25e-4},
      {"f":570,"a":35e-4,"b":30e-4,"c":18e-4,"d":45e-4,"e":25e-4,"g":30e-4,"h":33e-4,"i":22e-4},
      {"f":620,"a":15e-4,"b":14e-4,"c":9e-4,"d":20e-4,"e":11e-4,"g":13e-4,"h":15e-4,"i":10e-4},
      {"f":680,"a":7e-4,"b":6e-4,"c":4e-4,"d":8e-4,"e":5e-4,"g":6e-4,"h":6.5e-4,"i":4.5e-4},
      {"f":740,"a":4e-4,"b":3.5e-4,"c":2.4e-4,"d":4.5e-4,"e":3e-4,"g":3.5e-4,"h":3.8e-4,"i":2.7e-4},
      {"f":800,"a":4.5e-4,"b":4e-4,"c":2.8e-4,"d":5e-4,"e":3.5e-4,"g":4e-4,"h":4.2e-4,"i":3e-4},
      {"f":870,"a":7e-4,"b":6e-4,"c":4.5e-4,"d":8e-4,"e":5e-4,"g":6e-4,"h":6.5e-4,"i":4.8e-4},
      {"f":940,"a":15e-4,"b":12e-4,"c":8e-4,"d":18e-4,"e":10e-4,"g":12e-4,"h":14e-4,"i":9e-4},
      {"f":1000,"a":18e-4,"b":14e-4,"c":9e-4,"d":20e-4,"e":11e-4,"g":14e-4,"h":16e-4,"i":10e-4},
      {"f":1080,"a":10e-4,"b":8.5e-4,"c":6e-4,"d":12e-4,"e":7e-4,"g":8.5e-4,"h":9.5e-4,"i":6.5e-4},
      {"f":1170,"a":6e-4,"b":5.5e-4,"c":4e-4,"d":7e-4,"e":4.5e-4,"g":5.2e-4,"h":6e-4,"i":4.2e-4},
      {"f":1280,"a":4e-4,"b":3.8e-4,"c":3e-4,"d":4.5e-4,"e":3.3e-4,"g":3.7e-4,"h":4.1e-4,"i":3.1e-4},
      {"f":1400,"a":3.2e-4,"b":3e-4,"c":2.4e-4,"d":3.6e-4,"e":2.7e-4,"g":2.9e-4,"h":3.2e-4,"i":2.5e-4},
      {"f":1550,"a":2.8e-4,"b":2.6e-4,"c":2e-4,"d":3.2e-4,"e":2.3e-4,"g":2.5e-4,"h":2.8e-4,"i":2.1e-4},
      {"f":1700,"a":3e-4,"b":2.8e-4,"c":2.2e-4,"d":3.4e-4,"e":2.5e-4,"g":2.7e-4,"h":2.9e-4,"i":2.3e-4},
      {"f":1900,"a":4e-4,"b":3.7e-4,"c":3e-4,"d":4.5e-4,"e":3.3e-4,"g":3.6e-4,"h":3.9e-4,"i":3.1e-4},
      {"f":2100,"a":5.5e-4,"b":5e-4,"c":4e-4,"d":6.5e-4,"e":4.5e-4,"g":5e-4,"h":5.5e-4,"i":4.2e-4},
      {"f":2350,"a":8e-4,"b":7e-4,"c":5.5e-4,"d":9.5e-4,"e":6e-4,"g":7e-4,"h":7.5e-4,"i":5.8e-4},
      {"f":2600,"a":7e-4,"b":6.5e-4,"c":5e-4,"d":8e-4,"e":5.5e-4,"g":6.3e-4,"h":6.8e-4,"i":5.2e-4},
      {"f":2900,"a":5e-4,"b":4.8e-4,"c":3.8e-4,"d":5.5e-4,"e":4.2e-4,"g":4.6e-4,"h":5e-4,"i":4e-4},
      {"f":3250,"a":3.6e-4,"b":3.4e-4,"c":3e-4,"d":3.8e-4,"e":3.2e-4,"g":3.4e-4,"h":3.5e-4,"i":3.1e-4},
      {"f":3650,"a":3.4e-4,"b":3.3e-4,"c":3e-4,"d":3.5e-4,"e":3.2e-4,"g":3.3e-4,"h":3.4e-4,"i":3.1e-4},
      {"f":4100,"a":4e-4,"b":4e-4,"c":3.7e-4,"d":4.2e-4,"e":3.9e-4,"g":4e-4,"h":4.1e-4,"i":3.8e-4},
      {"f":4600,"a":5.5e-4,"b":5.6e-4,"c":5.2e-4,"d":5.8e-4,"e":5.4e-4,"g":5.5e-4,"h":5.6e-4,"i":5.3e-4},
      {"f":5200,"a":9.5e-4,"b":10e-4,"c":9e-4,"d":10e-4,"e":9.5e-4,"g":9.6e-4,"h":9.8e-4,"i":9.2e-4},
      {"f":5500,"a":20e-4,"b":21e-4,"c":19e-4,"d":21e-4,"e":20e-4,"g":20e-4,"h":20.5e-4,"i":19.5e-4},
      {"f":5800,"a":44e-4,"b":46e-4,"c":40e-4,"d":45e-4,"e":42e-4,"g":43e-4,"h":44e-4,"i":41e-4},
      {"f":6100,"a":30e-4,"b":32e-4,"c":28e-4,"d":31e-4,"e":29e-4,"g":30e-4,"h":30.5e-4,"i":28.5e-4},
      {"f":6500,"a":15e-4,"b":16e-4,"c":14e-4,"d":15e-4,"e":14.5e-4,"g":15e-4,"h":15.2e-4,"i":14.3e-4},
      {"f":7100,"a":7e-4,"b":7.5e-4,"c":6.5e-4,"d":7e-4,"e":6.8e-4,"g":7e-4,"h":7.1e-4,"i":6.7e-4},
      {"f":7900,"a":2.8e-4,"b":3e-4,"c":2.6e-4,"d":2.8e-4,"e":2.7e-4,"g":2.8e-4,"h":2.85e-4,"i":2.65e-4},
      {"f":8700,"a":1.9e-4,"b":2e-4,"c":1.8e-4,"d":1.9e-4,"e":1.85e-4,"g":1.9e-4,"h":1.92e-4,"i":1.82e-4},
      {"f":9400,"a":2.1e-4,"b":2.2e-4,"c":2e-4,"d":2.1e-4,"e":2.05e-4,"g":2.1e-4,"h":2.12e-4,"i":2.02e-4},
      {"f":10000,"a":2.6e-4,"b":2.7e-4,"c":2.5e-4,"d":2.6e-4,"e":2.6e-4,"g":2.6e-4,"h":2.62e-4,"i":2.55e-4}
    ],
    "fA": [
      {"f":110.5,"v":0.0261,"t":"f"},
      {"f":490,"v":0.0194,"t":"f"},
      {"f":903,"v":0.01296,"t":"f"},
      {"f":2003,"v":0.00479,"t":"f"}
    ],
    "sA": [
      {"f":129,"v":0.0198,"t":"1"},
      {"f":558,"v":0.0147,"t":"2"},
      {"f":1031,"v":0.0098,"t":"3"},
      {"f":2346,"v":0.00362,"t":"4"}
    ],
    "fB": [
      {"f":116.2,"v":0.0422,"t":"f"},
      {"f":513,"v":0.0174,"t":"f"},
      {"f":949,"v":0.00895,"t":"f"},
      {"f":2137,"v":0.00412,"t":"f"}
    ],
    "sB": [
      {"f":133,"v":0.0308,"t":"1"},
      {"f":580,"v":0.0132,"t":"2"},
      {"f":1062,"v":0.0067,"t":"3"},
      {"f":2480,"v":0.00312,"t":"4"}
    ]
  },
  "hconcat": [
    {
      "width": 413,
      "height": 416,
      "resolve": {"axis": {"x": "independent", "y": "independent"}},
      "layer": [
        {
          "data": {"name": "r1"},
          "transform": [{"fold": ["a","b","c","d","e","g","h","i"], "as": ["k","v"]}],
          "mark": {"type": "line", "strokeWidth": 1, "clip": true},
          "encoding": {
            "x": {"field": "f", "type": "quantitative", "scale": {"type": "log", "domain": [50, 10000], "nice": false},
              "axis": {"orient": "bottom", "title": "Frequency, Hz", "ticks": false, "values": [100,1000,10000],
                "labelExpr": "datum.value == 100 ? '10²' : datum.value == 1000 ? '10³' : '10⁴'"}},
            "y": {"field": "v", "type": "quantitative", "scale": {"type": "log", "domain": [0.00001, 0.1], "nice": false},
              "axis": {"orient": "left", "title": "LWPS, (m/s²)²", "ticks": false, "values": [0.0001,0.001,0.01,0.1],
                "labelExpr": "datum.value == 0.1 ? '10⁻¹' : datum.value == 0.01 ? '10⁻²' : datum.value == 0.001 ? '10⁻³' : '10⁻⁴'"}},
            "detail": {"field": "k"},
            "color": {"datum": "Rail 1", "scale": {"domain": ["Rail 1", "Rail 2"], "range": ["#ff0000", "#0000ff"]},
              "legend": {"orient": "none", "legendX": 240, "legendY": 5, "title": null}}
          }
        },
        {
          "data": {"name": "r2"},
          "transform": [{"fold": ["a","b","c","d","e","g","h","i"], "as": ["k","v"]}],
          "mark": {"type": "line", "strokeWidth": 1, "clip": true},
          "encoding": {
            "x": {"field": "f", "type": "quantitative",
              "axis": {"orient": "top", "offset": -416, "title": null, "labels": false, "values": [50,60,70,80,90,100,200,300,400,500,600,700,800,900,1000,2000,3000,4000,5000,6000,7000,8000,9000,10000]}},
            "y": {"field": "v", "type": "quantitative",
              "axis": {"orient": "right", "offset": -413, "title": null, "labels": false, "values": [0.00001,0.00002,0.00003,0.00004,0.00005,0.00006,0.00007,0.00008,0.00009,0.0001,0.0002,0.0003,0.0004,0.0005,0.0006,0.0007,0.0008,0.0009,0.001,0.002,0.003,0.004,0.005,0.006,0.007,0.008,0.009,0.01,0.02,0.03,0.04,0.05,0.06,0.07,0.08,0.09,0.1]}},
            "detail": {"field": "k"},
            "color": {"datum": "Rail 2"}
          }
        },
        {
          "data": {"name": "fA"},
          "mark": {"type": "text", "font": "Liberation Serif", "fontStyle": "italic", "fontSize": 29, "color": "#000000"},
          "encoding": {
            "x": {"field": "f", "type": "quantitative",
              "axis": {"orient": "bottom", "offset": -416, "title": null, "labels": false, "values": [50,60,70,80,90,100,200,300,400,500,600,700,800,900,1000,2000,3000,4000,5000,6000,7000,8000,9000,10000]}},
            "y": {"field": "v", "type": "quantitative",
              "axis": {"orient": "left", "offset": -413, "title": null, "labels": false, "values": [0.00001,0.00002,0.00003,0.00004,0.00005,0.00006,0.00007,0.00008,0.00009,0.0001,0.0002,0.0003,0.0004,0.0005,0.0006,0.0007,0.0008,0.0009,0.001,0.002,0.003,0.004,0.005,0.006,0.007,0.008,0.009,0.01,0.02,0.03,0.04,0.05,0.06,0.07,0.08,0.09,0.1]}},
            "text": {"field": "t"}
          }
        },
        {
          "data": {"name": "sA"},
          "mark": {"type": "text", "font": "Liberation Serif", "fontStyle": "italic", "fontSize": 22, "color": "#000000"},
          "encoding": {
            "x": {"field": "f", "type": "quantitative", "axis": null},
            "y": {"field": "v", "type": "quantitative", "axis": null},
            "text": {"field": "t"}
          }
        }
      ]
    },
    {
      "width": 412,
      "height": 416,
      "resolve": {"axis": {"x": "independent", "y": "independent"}},
      "layer": [
        {
          "data": {"name": "r3"},
          "transform": [{"fold": ["a","b","c","d","e","g","h","i"], "as": ["k","v"]}],
          "mark": {"type": "line", "strokeWidth": 1, "clip": true},
          "encoding": {
            "x": {"field": "f", "type": "quantitative", "scale": {"type": "log", "domain": [50, 10000], "nice": false},
              "axis": {"orient": "bottom", "title": "Frequency, Hz", "ticks": false, "values": [100,1000,10000],
                "labelExpr": "datum.value == 100 ? '10²' : datum.value == 1000 ? '10³' : '10⁴'"}},
            "y": {"field": "v", "type": "quantitative", "scale": {"type": "log", "domain": [0.00001, 0.1], "nice": false},
              "axis": {"orient": "left", "title": "LWPS, (m/s²)²", "ticks": false, "values": [0.0001,0.001,0.01,0.1],
                "labelExpr": "datum.value == 0.1 ? '10⁻¹' : datum.value == 0.01 ? '10⁻²' : datum.value == 0.001 ? '10⁻³' : '10⁻⁴'"}},
            "detail": {"field": "k"},
            "color": {"datum": "Rail 3", "scale": {"domain": ["Rail 3", "Rail 4"], "range": ["#ff0000", "#0000ff"]},
              "legend": {"orient": "none", "legendX": 272, "legendY": 4, "title": null}}
          }
        },
        {
          "data": {"name": "r4"},
          "transform": [{"fold": ["a","b","c","d","e","g","h","i"], "as": ["k","v"]}],
          "mark": {"type": "line", "strokeWidth": 1, "clip": true},
          "encoding": {
            "x": {"field": "f", "type": "quantitative",
              "axis": {"orient": "top", "offset": -416, "title": null, "labels": false, "values": [50,60,70,80,90,100,200,300,400,500,600,700,800,900,1000,2000,3000,4000,5000,6000,7000,8000,9000,10000]}},
            "y": {"field": "v", "type": "quantitative",
              "axis": {"orient": "right", "offset": -412, "title": null, "labels": false, "values": [0.00001,0.00002,0.00003,0.00004,0.00005,0.00006,0.00007,0.00008,0.00009,0.0001,0.0002,0.0003,0.0004,0.0005,0.0006,0.0007,0.0008,0.0009,0.001,0.002,0.003,0.004,0.005,0.006,0.007,0.008,0.009,0.01,0.02,0.03,0.04,0.05,0.06,0.07,0.08,0.09,0.1]}},
            "detail": {"field": "k"},
            "color": {"datum": "Rail 4"}
          }
        },
        {
          "data": {"name": "fB"},
          "mark": {"type": "text", "font": "Liberation Serif", "fontStyle": "italic", "fontSize": 29, "color": "#000000"},
          "encoding": {
            "x": {"field": "f", "type": "quantitative",
              "axis": {"orient": "bottom", "offset": -416, "title": null, "labels": false, "values": [50,60,70,80,90,100,200,300,400,500,600,700,800,900,1000,2000,3000,4000,5000,6000,7000,8000,9000,10000]}},
            "y": {"field": "v", "type": "quantitative",
              "axis": {"orient": "left", "offset": -412, "title": null, "labels": false, "values": [0.00001,0.00002,0.00003,0.00004,0.00005,0.00006,0.00007,0.00008,0.00009,0.0001,0.0002,0.0003,0.0004,0.0005,0.0006,0.0007,0.0008,0.0009,0.001,0.002,0.003,0.004,0.005,0.006,0.007,0.008,0.009,0.01,0.02,0.03,0.04,0.05,0.06,0.07,0.08,0.09,0.1]}},
            "text": {"field": "t"}
          }
        },
        {
          "data": {"name": "sB"},
          "mark": {"type": "text", "font": "Liberation Serif", "fontStyle": "italic", "fontSize": 22, "color": "#000000"},
          "encoding": {
            "x": {"field": "f", "type": "quantitative", "axis": null},
            "y": {"field": "v", "type": "quantitative", "axis": null},
            "text": {"field": "t"}
          }
        }
      ]
    }
  ],
  "config": {
    "font": "Liberation Sans",
    "background": "#ffffff",
    "view": {"stroke": "#262626", "strokeWidth": 1.3},
    "axis": {
      "grid": false,
      "domain": false,
      "tickColor": "#262626", "tickSize": 5, "tickWidth": 1.1,
      "labelColor": "#262626", "labelFontSize": 20, "labelFont": "Liberation Sans",
      "labelOverlap": false, "labelBound": false, "labelFlush": false,
      "titleColor": "#262626", "titleFontSize": 22, "titleFont": "Liberation Sans", "titleFontWeight": "normal"
    },
    "axisBottom": {"labelPadding": 26, "titlePadding": 2},
    "axisLeft": {"labelPadding": 10, "titlePadding": 4, "labelOffset": 9},
    "legend": {
      "symbolType": "stroke", "symbolSize": 1764, "symbolStrokeWidth": 1.5,
      "labelFontSize": 26, "labelFont": "Liberation Sans", "labelColor": "#000000",
      "labelOffset": 12, "rowPadding": 0, "padding": 0, "clipHeight": 29
    },
    "text": {"align": "center", "baseline": "middle"}
  }
}
